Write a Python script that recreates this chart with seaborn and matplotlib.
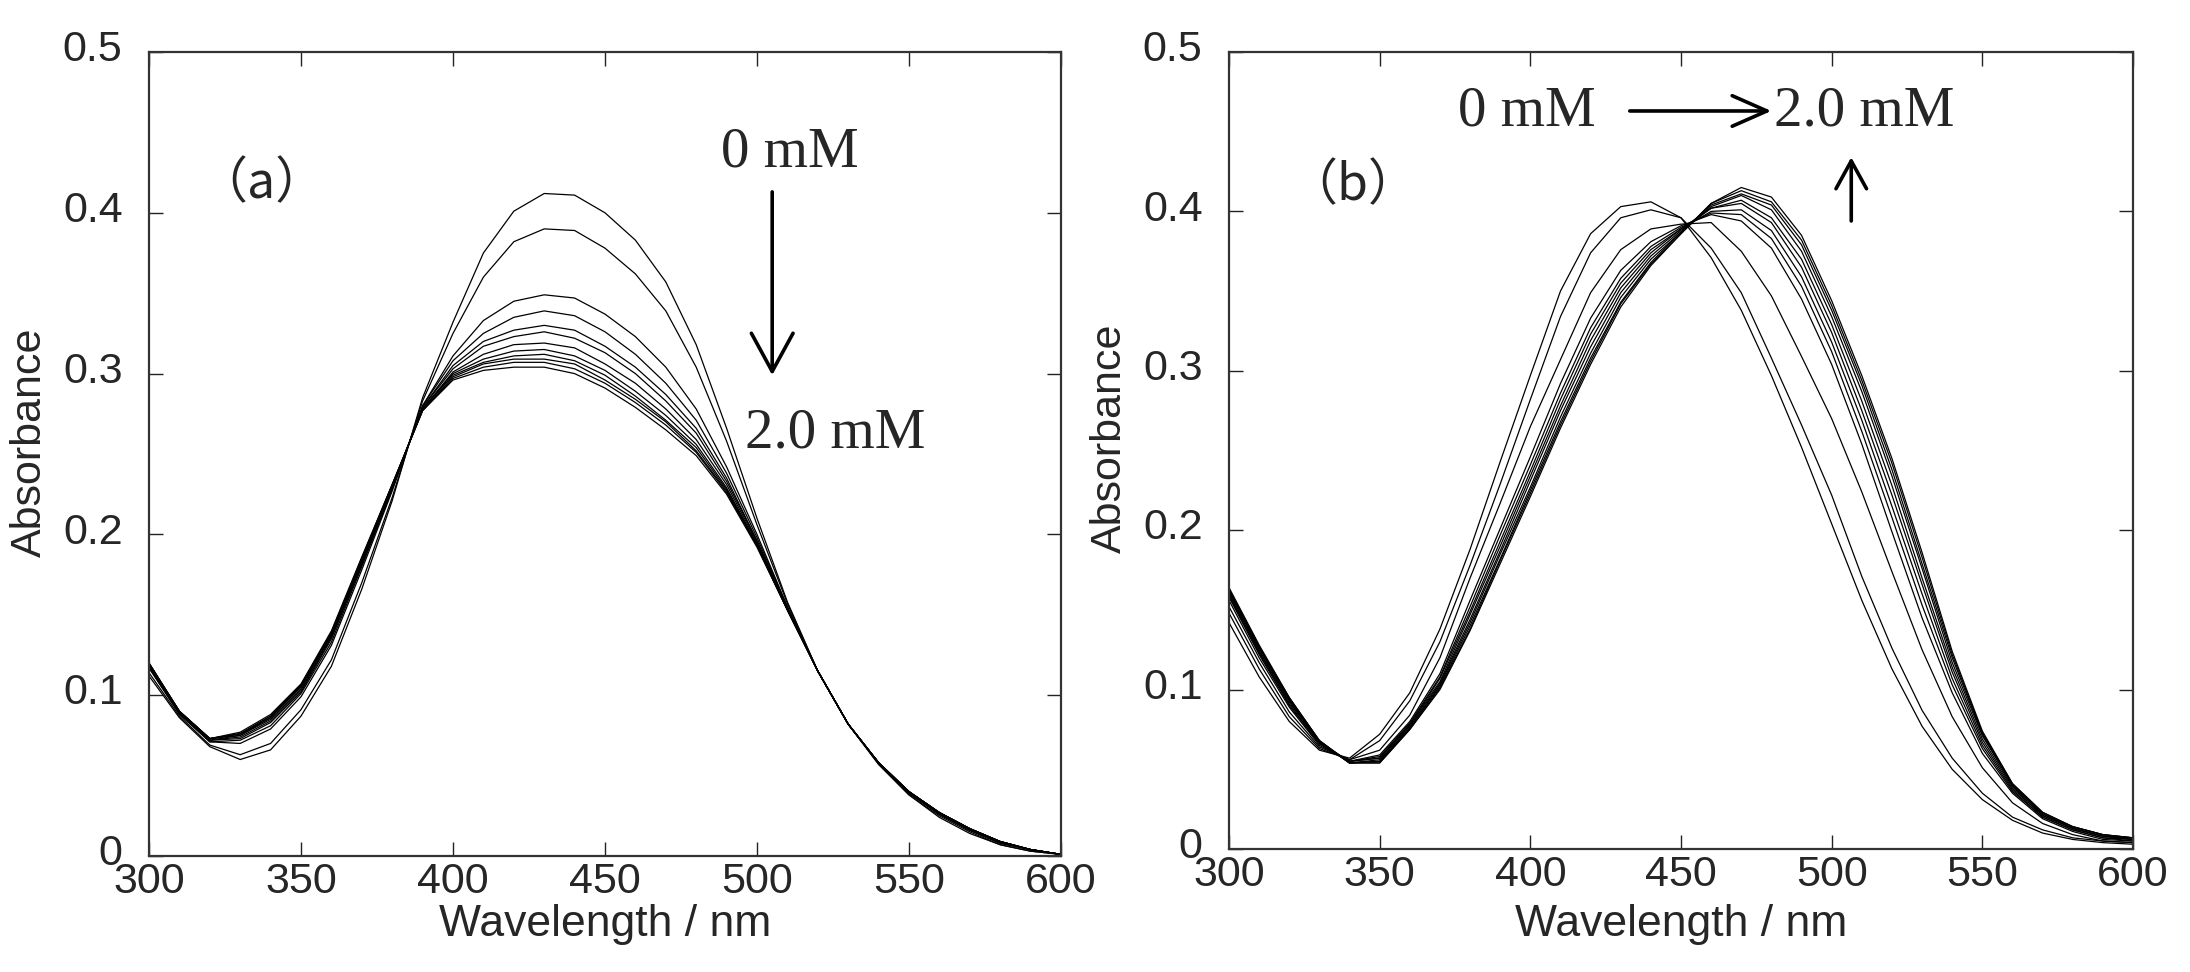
import numpy as np
import pandas as pd
import matplotlib
matplotlib.use("Agg")
import matplotlib.pyplot as plt
import matplotlib.transforms as mtransforms
import seaborn as sns

# wavelength grid (nm), every 10 nm
wavelength = list(range(300, 601, 10))

# (a) titration 0 mM -> 2.0 mM
a_00 = [0.112,0.086,0.068,0.060,0.066,0.087,0.118,0.166,0.221,0.285,0.332,0.375,0.401,0.412,0.411,0.400,0.383,0.357,0.318,0.266,0.210,0.158,0.115,0.082,0.057,0.038,0.024,0.014,0.007,0.003,0.001]
a_01 = [0.114,0.087,0.069,0.063,0.070,0.091,0.122,0.170,0.223,0.283,0.325,0.360,0.382,0.390,0.389,0.378,0.362,0.339,0.304,0.258,0.206,0.157,0.115,0.082,0.057,0.038,0.025,0.015,0.007,0.003,0.001]
a_02 = [0.117,0.088,0.071,0.070,0.079,0.099,0.131,0.178,0.227,0.280,0.311,0.333,0.345,0.349,0.347,0.337,0.323,0.304,0.278,0.242,0.200,0.155,0.115,0.082,0.058,0.039,0.026,0.016,0.008,0.004,0.001]
a_03 = [0.117,0.089,0.071,0.072,0.081,0.101,0.133,0.180,0.228,0.280,0.308,0.325,0.335,0.339,0.336,0.326,0.312,0.294,0.271,0.238,0.198,0.155,0.115,0.082,0.058,0.039,0.026,0.016,0.008,0.004,0.001]
a_04 = [0.118,0.089,0.072,0.073,0.083,0.102,0.135,0.181,0.229,0.279,0.305,0.320,0.327,0.330,0.327,0.317,0.304,0.287,0.266,0.235,0.196,0.154,0.115,0.082,0.058,0.040,0.026,0.016,0.008,0.004,0.001]
a_05 = [0.118,0.089,0.072,0.074,0.084,0.103,0.136,0.182,0.229,0.279,0.303,0.317,0.323,0.326,0.322,0.313,0.300,0.283,0.263,0.233,0.196,0.154,0.115,0.082,0.058,0.040,0.026,0.016,0.009,0.004,0.001]
a_06 = [0.119,0.089,0.072,0.075,0.085,0.104,0.137,0.183,0.230,0.278,0.301,0.312,0.318,0.319,0.316,0.306,0.294,0.278,0.259,0.231,0.195,0.154,0.115,0.082,0.058,0.040,0.027,0.017,0.009,0.004,0.001]
a_07 = [0.119,0.090,0.073,0.075,0.086,0.105,0.138,0.184,0.230,0.278,0.300,0.309,0.314,0.315,0.311,0.302,0.289,0.274,0.256,0.229,0.194,0.153,0.115,0.082,0.058,0.040,0.027,0.017,0.009,0.004,0.001]
a_08 = [0.119,0.090,0.073,0.076,0.086,0.106,0.138,0.185,0.230,0.278,0.299,0.307,0.311,0.312,0.308,0.299,0.286,0.271,0.254,0.228,0.193,0.153,0.115,0.082,0.058,0.040,0.027,0.017,0.009,0.004,0.001]
a_09 = [0.120,0.090,0.073,0.076,0.087,0.106,0.139,0.185,0.231,0.277,0.298,0.306,0.309,0.309,0.306,0.296,0.284,0.270,0.252,0.227,0.193,0.153,0.115,0.082,0.058,0.040,0.027,0.017,0.009,0.004,0.001]
a_10 = [0.120,0.090,0.073,0.076,0.087,0.106,0.139,0.185,0.231,0.277,0.297,0.304,0.307,0.307,0.303,0.294,0.282,0.268,0.251,0.226,0.193,0.153,0.115,0.082,0.058,0.040,0.027,0.017,0.009,0.004,0.001]
a_11 = [0.120,0.090,0.073,0.077,0.088,0.107,0.140,0.186,0.231,0.277,0.296,0.302,0.304,0.304,0.300,0.291,0.279,0.265,0.249,0.225,0.192,0.153,0.115,0.082,0.058,0.040,0.027,0.017,0.009,0.004,0.001]

# (b) titration 0 mM -> 2.0 mM
b_00 = [0.142,0.108,0.080,0.062,0.057,0.072,0.098,0.138,0.188,0.243,0.297,0.350,0.386,0.403,0.406,0.396,0.371,0.338,0.297,0.252,0.204,0.156,0.113,0.077,0.050,0.031,0.018,0.010,0.006,0.004,0.003]
b_01 = [0.148,0.113,0.083,0.063,0.056,0.068,0.093,0.130,0.178,0.229,0.282,0.334,0.374,0.396,0.401,0.396,0.377,0.349,0.308,0.266,0.222,0.171,0.126,0.087,0.057,0.035,0.020,0.012,0.007,0.005,0.004]
b_02 = [0.152,0.117,0.086,0.064,0.056,0.062,0.084,0.120,0.170,0.217,0.265,0.307,0.349,0.376,0.389,0.392,0.393,0.375,0.347,0.309,0.270,0.224,0.174,0.125,0.083,0.051,0.029,0.016,0.009,0.005,0.004]
b_03 = [0.156,0.120,0.089,0.065,0.055,0.059,0.080,0.110,0.156,0.201,0.246,0.292,0.333,0.363,0.381,0.391,0.398,0.394,0.377,0.345,0.304,0.254,0.199,0.145,0.098,0.060,0.035,0.019,0.011,0.006,0.005]
b_04 = [0.158,0.122,0.090,0.066,0.055,0.058,0.079,0.108,0.152,0.197,0.241,0.286,0.327,0.358,0.378,0.390,0.399,0.398,0.383,0.353,0.312,0.262,0.208,0.153,0.103,0.063,0.036,0.020,0.012,0.007,0.005]
b_05 = [0.159,0.123,0.091,0.066,0.055,0.057,0.078,0.107,0.149,0.193,0.237,0.282,0.323,0.355,0.376,0.389,0.400,0.401,0.388,0.359,0.318,0.269,0.215,0.160,0.107,0.065,0.037,0.020,0.012,0.007,0.006]
b_06 = [0.160,0.124,0.092,0.067,0.055,0.057,0.078,0.105,0.147,0.190,0.234,0.278,0.319,0.352,0.374,0.389,0.402,0.405,0.393,0.365,0.324,0.275,0.222,0.166,0.111,0.067,0.038,0.021,0.013,0.008,0.006]
b_07 = [0.161,0.125,0.093,0.067,0.054,0.056,0.077,0.104,0.144,0.187,0.231,0.275,0.315,0.349,0.372,0.388,0.402,0.407,0.396,0.370,0.329,0.281,0.228,0.170,0.114,0.069,0.039,0.021,0.013,0.008,0.006]
b_08 = [0.162,0.126,0.094,0.067,0.054,0.055,0.076,0.103,0.142,0.185,0.227,0.271,0.311,0.346,0.370,0.387,0.403,0.410,0.401,0.375,0.334,0.287,0.234,0.176,0.117,0.071,0.040,0.022,0.013,0.008,0.007]
b_09 = [0.163,0.127,0.094,0.068,0.054,0.055,0.076,0.102,0.140,0.182,0.225,0.268,0.308,0.343,0.368,0.387,0.404,0.411,0.404,0.379,0.338,0.291,0.238,0.179,0.120,0.072,0.040,0.022,0.014,0.009,0.007]
b_10 = [0.163,0.127,0.095,0.068,0.054,0.054,0.075,0.101,0.138,0.181,0.223,0.266,0.306,0.342,0.367,0.386,0.405,0.413,0.406,0.382,0.341,0.294,0.242,0.183,0.122,0.073,0.041,0.023,0.014,0.009,0.007]
b_11 = [0.164,0.128,0.095,0.068,0.054,0.054,0.075,0.100,0.137,0.179,0.221,0.264,0.304,0.340,0.366,0.386,0.405,0.415,0.409,0.385,0.344,0.297,0.245,0.186,0.124,0.074,0.041,0.023,0.014,0.009,0.007]

x_ticks = [300, 350, 400, 450, 500, 550, 600]
y_ticks = [0, 0.1, 0.2, 0.3, 0.4, 0.5]
y_ticklabels = ["0", "0.1", "0.2", "0.3", "0.4", "0.5"]

spectra_a = [a_00, a_01, a_02, a_03, a_04, a_05, a_06, a_07, a_08, a_09, a_10, a_11]
spectra_b = [b_00, b_01, b_02, b_03, b_04, b_05, b_06, b_07, b_08, b_09, b_10, b_11]


def to_long(spectra):
    frames = []
    for i, s in enumerate(spectra):
        frames.append(pd.DataFrame({"wavelength": wavelength, "absorbance": s, "curve": i}))
    return pd.concat(frames, ignore_index=True)


df_a = to_long(spectra_a)
df_b = to_long(spectra_b)

sns.set_theme(style="ticks")
plt.rcParams["font.family"] = ["Liberation Sans", "DejaVu Sans"]

W, H = 2190, 972
fig = plt.figure(figsize=(W / 100, H / 100), dpi=100)

# axes boxes in pixels: left, top, right, bottom
boxes = [(149, 52, 1061, 856), (1229, 52, 2133, 849)]
axes = []
for (l, t, r, b) in boxes:
    axes.append(fig.add_axes([l / W, 1 - b / H, (r - l) / W, (b - t) / H]))

# y tick labels sit a little above their ticks in the original
raise_lbl = mtransforms.ScaledTranslation(0, 4.5 / 72, fig.dpi_scale_trans)

for ax, df, (l, t, r, b) in zip(axes, [df_a, df_b], boxes):
    sns.lineplot(data=df, x="wavelength", y="absorbance", units="curve",
                 estimator=None, color="black", lw=0.9, legend=False, ax=ax)
    ax.set_xlim(300, 600)
    ax.set_ylim(0, 0.5)
    ax.set_xticks(x_ticks)
    ax.set_yticks(y_ticks)
    ax.set_yticklabels(y_ticklabels)
    ax.tick_params(direction="in", top=True, right=True, length=10, width=1.0,
                   color="#222222", labelsize=31)
    ax.tick_params(axis="x", pad=4.5)
    ax.tick_params(axis="y", pad=19)
    for lbl in ax.get_yticklabels():
        lbl.set_transform(lbl.get_transform() + raise_lbl)
    for sp in ax.spines.values():
        sp.set_linewidth(1.6)
        sp.set_color("#333333")
    ax.set_xlabel("Wavelength / nm", fontsize=32)
    ax.set_ylabel("Absorbance", fontsize=31)
    ax.xaxis.set_label_coords(0.5, (b - 904) / (b - t))
    ax.xaxis.label.set_verticalalignment("top")
    ax.yaxis.set_label_coords(-119 / (r - l), 0.515)
    ax.yaxis.label.set_verticalalignment("center")

serif = ["Liberation Serif", "DejaVu Serif"]
cjk = ["Noto Sans CJK JP", "DejaVu Sans"]

ax1, ax2 = axes
ax1.text(337, 0.418, "（a）", fontsize=36, family=cjk, ha="center", va="center")
ax1.text(488, 0.429, "0 mM", fontsize=41, family=serif, ha="left", va="baseline")
ax1.text(496, 0.254, "2.0 mM", fontsize=41, family=serif, ha="left", va="baseline")
ax1.annotate("", xy=(505, 0.299), xytext=(505, 0.413),
             arrowprops=dict(arrowstyle="->,head_length=0.55,head_width=0.3",
                             lw=2.6, color="black", mutation_scale=50,
                             shrinkA=0, shrinkB=0))

ax2.text(341, 0.416, "（b）", fontsize=36, family=cjk, ha="center", va="center")
ax2.text(376, 0.454, "0 mM", fontsize=41, family=serif, ha="left", va="baseline")
ax2.text(481, 0.454, "2.0 mM", fontsize=41, family=serif, ha="left", va="baseline")
ax2.annotate("", xy=(480, 0.463), xytext=(433, 0.463),
             arrowprops=dict(arrowstyle="->,head_length=0.5,head_width=0.22",
                             lw=2.6, color="black", mutation_scale=50,
                             shrinkA=0, shrinkB=0))
ax2.annotate("", xy=(506.5, 0.434), xytext=(506.5, 0.394),
             arrowprops=dict(arrowstyle="->,head_length=0.4,head_width=0.22",
                             lw=2.6, color="black", mutation_scale=50,
                             shrinkA=0, shrinkB=0))

fig.savefig("out.png", dpi=100, facecolor="white")
